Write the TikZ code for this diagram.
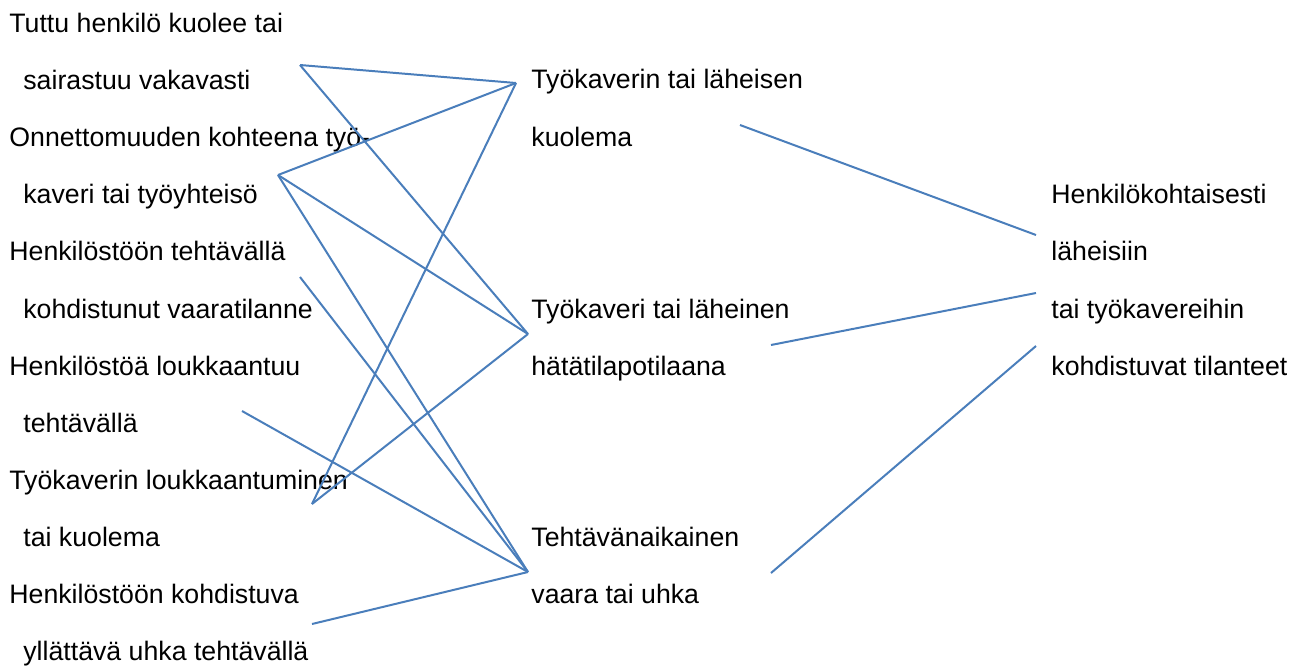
\documentclass[tikz,border=0pt]{standalone}
\usepackage{fontspec}
\setmainfont{Liberation Sans}
\definecolor{linkblue}{RGB}{74,126,187}

\begin{document}
\begin{tikzpicture}[x=0.5pt,y=-0.5pt,
  every node/.style={font=\fontsize{13.35}{16}\selectfont},
  txt/.style={anchor=base west,inner sep=0pt},
  link/.style={draw=linkblue,line width=1pt}]
  \useasboundingbox (0,0) rectangle (1303,671);
  \node[txt] (tuttu) at (9,32) {Tuttu henkilö kuolee tai};
  \node[txt] (tuttub) at (23,89) {sairastuu vakavasti};
  \node[txt] (onn) at (9,146) {Onnettomuuden kohteena työ-};
  \node[txt] (onnb) at (23,203) {kaveri tai työyhteisö};
  \node[txt] (vaarat) at (9,260) {Henkilöstöön tehtävällä};
  \node[txt] (vaaratb) at (23,318) {kohdistunut vaaratilanne};
  \node[txt] (louk) at (9,375) {Henkilöstöä loukkaantuu};
  \node[txt] (loukb) at (23,432) {tehtävällä};
  \node[txt] (tkl) at (9,489) {Työkaverin loukkaantuminen};
  \node[txt] (tklb) at (23,546) {tai kuolema};
  \node[txt] (uhka) at (9,603) {Henkilöstöön kohdistuva};
  \node[txt] (uhkab) at (23,660) {yllättävä uhka tehtävällä};
  \node[txt] (kuol) at (531,88) {Työkaverin tai läheisen};
  \node[txt] (kuolb) at (531,146) {kuolema};
  \node[txt] (hata) at (531,318) {Työkaveri tai läheinen};
  \node[txt] (hatab) at (531,375) {hätätilapotilaana};
  \node[txt] (teht) at (531,546) {Tehtävänaikainen};
  \node[txt] (tehtb) at (531,603) {vaara tai uhka};
  \node[txt] (henk) at (1051,203) {Henkilökohtaisesti};
  \node[txt] (henkb) at (1051,260) {läheisiin};
  \node[txt] (henkc) at (1051,318) {tai työkavereihin};
  \node[txt] (henkd) at (1051,375) {kohdistuvat tilanteet};
  \coordinate (pTuttu) at (300,65);
  \coordinate (pOnn) at (278,175);
  \coordinate (pVaarat) at (300,277);
  \coordinate (pLouk) at (242,411);
  \coordinate (pTkl) at (312,504);
  \coordinate (pUhka) at (312,624);
  \coordinate (qKuol) at (516,83);
  \coordinate (qHata) at (528,334);
  \coordinate (qTeht) at (528,572);
  \coordinate (oKuol) at (740,125);
  \coordinate (oHata) at (771,345);
  \coordinate (oTeht) at (771,573);
  \coordinate (rHenk) at (1036,235);
  \coordinate (rHenkb) at (1036,293);
  \coordinate (rHenkc) at (1036,346);
  \draw[link] (pTuttu)--(qKuol); \draw[link] (pTuttu)--(qHata);
  \draw[link] (pOnn)--(qKuol); \draw[link] (pOnn)--(qHata); \draw[link] (pOnn)--(qTeht);
  \draw[link] (pVaarat)--(qTeht); \draw[link] (pLouk)--(qTeht);
  \draw[link] (pTkl)--(qKuol); \draw[link] (pTkl)--(qHata); \draw[link] (pUhka)--(qTeht);
  \draw[link] (oKuol)--(rHenk); \draw[link] (oHata)--(rHenkb); \draw[link] (oTeht)--(rHenkc);
\end{tikzpicture}
\end{document}
